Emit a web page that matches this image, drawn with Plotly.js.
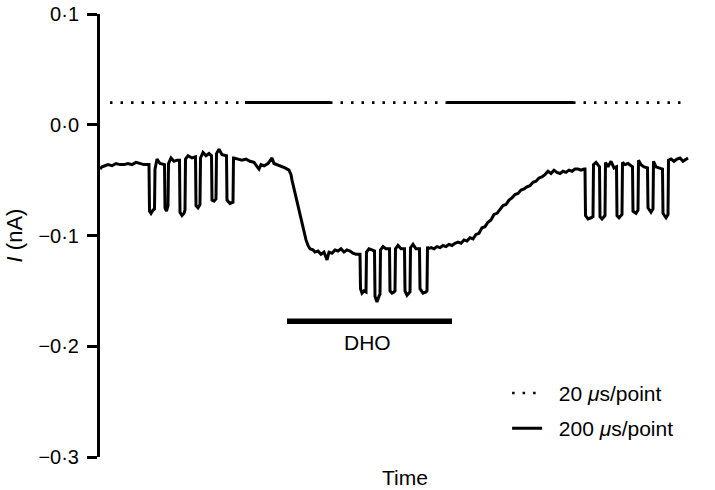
<!DOCTYPE html>
<html>
<head>
<meta charset="utf-8">
<script src="https://cdn.plot.ly/plotly-3.0.1.min.js"></script>
<style>html,body{margin:0;padding:0;background:#fff;}#chart{width:715px;height:490px;}</style>
</head>
<body>
<div id="chart"></div>
<script>
// Time (arbitrary units) and current (nA)
var timePts = [0,2,5,8,12,16,20,24,28,32,36,40,44,48,
  49,49.5,51,53,54.5,55,57,60,63,64.5,
  65,66.5,68,68.5,71,74,77,79.5,
  80,82,84,85,85.5,88,92,95.5,
  96,98,100,100.5,103,106,109,111.5,
  112,114,116,116.5,119,122,126.5,
  127,130,133,133.5,
  134,138,142,146,150,154,157,159,161,164,168,172,174,177,181,185,189,191,
  192,195,197,199,202,204,206,208,210,213,
  215,218,221,224,227,229,232,235,238,241,244,247,250,253,256,259,
  260,260.5,262,264,266,266.5,269,272,274.5,
  275,277,279,280,280.5,283,286,289.5,
  290,292,294,295,295.5,298,301,304.5,
  305,307,309,310,310.5,313,316,319.5,
  320,323,326,327,327.5,
  328,331,334,337,340,343,346,349,352,355,358,361,364,367,370,373,376,379,382,385,388,391,394,397,400,403,406,409,412,415,418,421,424,427,430,433,436,439,442,445,448,451,454,457,460,463,466,469,472,475,478,481,484,
  485,485.5,488,491,493,493.5,496,499.5,
  500,502,505,505.5,508,511,514,516.5,
  517,519,522,522.5,525,528,532.5,
  533,536,538,538.5,541,544,547.5,
  548,551,553,553.5,556,559,562.5,
  563,566,568,568.5,
  571,574,577,580,583,586,588];
var currentPts = [-0.040,-0.038,-0.037,-0.036,-0.037,-0.035,-0.036,-0.036,-0.035,-0.036,-0.034,-0.035,-0.036,-0.036,
  -0.036,-0.078,-0.080,-0.077,-0.076,-0.040,-0.031,-0.035,-0.036,-0.036,
  -0.075,-0.078,-0.073,-0.035,-0.030,-0.033,-0.032,-0.032,
  -0.079,-0.082,-0.080,-0.077,-0.031,-0.028,-0.030,-0.029,
  -0.073,-0.075,-0.072,-0.030,-0.025,-0.028,-0.026,-0.028,
  -0.068,-0.069,-0.067,-0.026,-0.022,-0.027,-0.028,
  -0.068,-0.071,-0.070,-0.030,
  -0.030,-0.031,-0.032,-0.031,-0.033,-0.034,-0.037,-0.040,-0.036,-0.037,-0.035,-0.030,-0.035,-0.036,-0.037,-0.039,-0.041,-0.045,
  -0.050,-0.062,-0.070,-0.079,-0.090,-0.097,-0.104,-0.109,-0.112,-0.113,
  -0.115,-0.114,-0.117,-0.115,-0.122,-0.115,-0.116,-0.113,-0.114,-0.112,-0.115,-0.113,-0.114,-0.116,-0.117,-0.117,
  -0.117,-0.148,-0.152,-0.150,-0.151,-0.115,-0.112,-0.113,-0.114,
  -0.155,-0.160,-0.155,-0.153,-0.113,-0.110,-0.112,-0.112,
  -0.150,-0.152,-0.151,-0.150,-0.112,-0.109,-0.112,-0.112,
  -0.150,-0.154,-0.152,-0.151,-0.111,-0.108,-0.112,-0.112,
  -0.148,-0.152,-0.151,-0.150,-0.110,
  -0.112,-0.111,-0.112,-0.110,-0.111,-0.109,-0.110,-0.108,-0.109,-0.107,-0.106,-0.107,-0.104,-0.105,-0.102,-0.103,-0.099,-0.098,-0.093,-0.092,-0.088,-0.086,-0.081,-0.080,-0.076,-0.073,-0.072,-0.068,-0.066,-0.063,-0.062,-0.059,-0.058,-0.056,-0.055,-0.052,-0.051,-0.048,-0.047,-0.045,-0.042,-0.044,-0.041,-0.043,-0.044,-0.042,-0.043,-0.041,-0.042,-0.040,-0.040,-0.041,-0.040,
  -0.040,-0.082,-0.085,-0.084,-0.083,-0.036,-0.034,-0.038,
  -0.083,-0.085,-0.082,-0.034,-0.038,-0.033,-0.039,-0.038,
  -0.082,-0.084,-0.081,-0.034,-0.036,-0.035,-0.038,
  -0.078,-0.080,-0.077,-0.032,-0.036,-0.038,-0.039,
  -0.075,-0.079,-0.076,-0.033,-0.038,-0.039,-0.040,
  -0.080,-0.084,-0.081,-0.032,
  -0.031,-0.033,-0.031,-0.030,-0.033,-0.031,-0.030];

// Sampling-rate indicator line at 0.02 nA
var rateLevel = 0.02;
var dotTime = [10,145,null,230,347,null,473,588];
var solidTime = [145,230,null,347,473];

// DHO application bar
var dhoTime = [187,352];
var dhoLevel = -0.1775;
var dhoLabel = "DHO";

// Axis ticks and texts
var yTickVals = [0.1,0.0,-0.1,-0.2,-0.3];
var yTickText = ["0·1","0·0","−0·1","−0·2","−0·3"];
var seriesNames = ["\u00a0\u00a020 <i>μ</i>s/point","\u00a0\u00a0200 <i>μ</i>s/point"];
var xTitle = "Time";
var yTitle = "<i>I</i> (nA)";

function levelArr(xs, v){ return xs.map(function(x){ return x===null?null:v; }); }

var FONT = "Liberation Sans, Arial, Helvetica, sans-serif";

var traces = [
  {x: timePts, y: currentPts, mode: "lines", line: {color: "#000", width: 3}, showlegend: false, hoverinfo: "skip"},
  {x: dotTime, y: levelArr(dotTime, rateLevel), mode: "lines", name: seriesNames[0], legendgroup: "a",
   line: {color: "#000", width: 2.6, dash: "2.5px,8px"}, connectgaps: false},
  {x: solidTime, y: levelArr(solidTime, rateLevel), mode: "lines", name: seriesNames[1], legendgroup: "b",
   line: {color: "#000", width: 3}, connectgaps: false},
  {x: dhoTime, y: [dhoLevel, dhoLevel], mode: "lines", line: {color: "#000", width: 5.5}, showlegend: false}
];

var layout = {
  width: 715, height: 490,
  margin: {l: 100, r: 25, t: 14, b: 33},
  paper_bgcolor: "#fff", plot_bgcolor: "#fff",
  font: {family: FONT, size: 21, color: "#000"},
  showlegend: true,
  legend: {x: 0.69, y: 0.19, xanchor: "left", yanchor: "top", bgcolor: "rgba(0,0,0,0)",
           font: {family: FONT, size: 21, color: "#000"}, tracegroupgap: 5, itemwidth: 30},
  xaxis: {range: [0, 590], showline: false, showticklabels: false, ticks: "", showgrid: false, zeroline: false},
  yaxis: {range: [-0.3, 0.1], showline: true, linewidth: 3, linecolor: "#000", ticks: "outside", ticklen: 10,
          tickwidth: 3, tickcolor: "#000", tickvals: yTickVals, ticktext: yTickText, showgrid: false, zeroline: false,
          tickfont: {family: FONT, size: 20, color: "#000"}, ticklabelstandoff: 4,
          title: {text: yTitle, standoff: 10, font: {family: FONT, size: 22}}},
  annotations: [
    {x: (dhoTime[0]+dhoTime[1])/2 - 2, y: dhoLevel, xref: "x", yref: "y", text: dhoLabel, showarrow: false,
     yanchor: "top", yshift: -8, font: {family: FONT, size: 21, color: "#000"}},
    {x: 0.517, y: 0, xref: "paper", yref: "paper", text: xTitle, showarrow: false,
     yanchor: "top", yshift: -7, font: {family: FONT, size: 21, color: "#000"}}
  ]
};

Plotly.newPlot("chart", traces, layout, {displayModeBar: false, staticPlot: true});
</script>
</body>
</html>
